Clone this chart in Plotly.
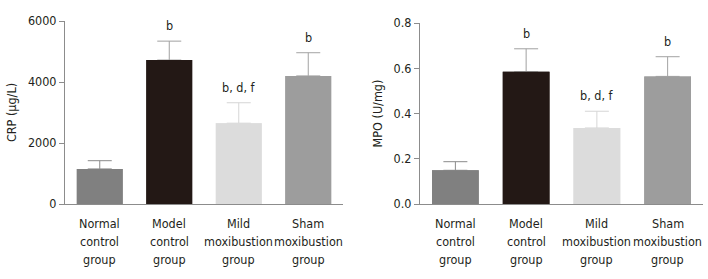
import plotly.graph_objects as go

categories = ["Normal control group", "Model control group", "Mild moxibustion group", "Sham moxibustion group"]
label_lines = [["Normal", "control", "group"], ["Model", "control", "group"],
               ["Mild", "moxibustion", "group"], ["Sham", "moxibustion", "group"]]
crp_mean = [1150, 4720, 2650, 4200]
crp_err = [270, 620, 670, 760]
mpo_mean = [0.149, 0.585, 0.336, 0.564]
mpo_err = [0.038, 0.101, 0.074, 0.087]
sig_labels = ["", "b", "b, d, f", "b"]
bar_colors = ["#808080", "#231815", "#dcdcdc", "#9d9d9d"]
err_colors = ["#8a8a8a", "#a0a0a0", "#d6d6d6", "#a3a3a3"]

FONT = "DejaVu Sans Condensed, DejaVu Sans, sans-serif"
TXT = "#231f20"
FS = 12.5

fig = go.Figure()
panels = [
    ("x", "y", crp_mean, crp_err),
    ("x2", "y2", mpo_mean, mpo_err),
]
annotations = []
for xa, ya, means, errs in panels:
    for i, c in enumerate(categories):
        # bar carrying the upward-only error bar
        fig.add_trace(go.Bar(
            x=[c], y=[means[i]], xaxis=xa, yaxis=ya, width=0.66,
            marker=dict(color=bar_colors[i], line=dict(width=0)),
            error_y=dict(type="data", array=[errs[i]], arrayminus=[0], symmetric=False,
                         color=err_colors[i], thickness=1, width=12),
            showlegend=False, hoverinfo="skip"))
        # identical bar on top, hiding the lower cap of the error bar
        fig.add_trace(go.Bar(
            x=[c], y=[means[i]], xaxis=xa, yaxis=ya, width=0.66,
            marker=dict(color=bar_colors[i], line=dict(width=0)),
            showlegend=False, hoverinfo="skip"))
        if sig_labels[i]:
            annotations.append(dict(x=c, y=means[i] + errs[i], xref=xa, yref=ya,
                                    text=sig_labels[i], showarrow=False, yanchor="bottom",
                                    yshift=6, font=dict(family=FONT, size=FS, color=TXT)))
        for j, line in enumerate(label_lines[i]):
            annotations.append(dict(x=c, y=0, xref=xa, yref=ya, text=line, showarrow=False,
                                    yanchor="middle", yshift=-(19 + 18 * j),
                                    font=dict(family=FONT, size=FS, color=TXT)))

axis_common = dict(showline=True, linecolor="#8c8c8c", linewidth=1, showgrid=False,
                   zeroline=False, automargin=False,
                   tickfont=dict(family=FONT, size=FS, color=TXT))
fig.update_layout(
    width=708, height=279, margin=dict(l=0, r=0, t=0, b=0, pad=0),
    plot_bgcolor="white", paper_bgcolor="white", barmode="overlay",
    font=dict(family=FONT, size=FS, color=TXT),
    xaxis=dict(domain=[65 / 708, 343 / 708], range=[-0.5, 3.5], showticklabels=False,
               ticks="", anchor="y", **axis_common),
    xaxis2=dict(domain=[420 / 708, 703 / 708], range=[-0.5, 3.5], showticklabels=False,
                ticks="", anchor="y2", **axis_common),
    yaxis=dict(domain=[(279 - 204) / 279, (279 - 21) / 279], range=[0, 6000],
               tickvals=[0, 2000, 4000, 6000], ticktext=["0", "2000", "4000", "6000"],
               ticks="outside", ticklen=5, tickcolor="#8c8c8c", anchor="x",
               title=dict(text="CRP (μg/L)", standoff=8, font=dict(family=FONT, size=FS, color=TXT)),
               **axis_common),
    yaxis2=dict(domain=[(279 - 204) / 279, (279 - 23) / 279], range=[0, 0.8],
                tickvals=[0, 0.2, 0.4, 0.6, 0.8], ticktext=["0.0", "0.2", "0.4", "0.6", "0.8"],
                ticks="outside", ticklen=5, tickcolor="#8c8c8c", anchor="x2",
                title=dict(text="MPO (U/mg)", standoff=8, font=dict(family=FONT, size=FS, color=TXT)),
                **axis_common),
    annotations=annotations,
)
fig.write_html("out.html", config={"displayModeBar": False, "staticPlot": True},
               post_script="document.body.style.margin='0';document.body.style.overflow='hidden';")
